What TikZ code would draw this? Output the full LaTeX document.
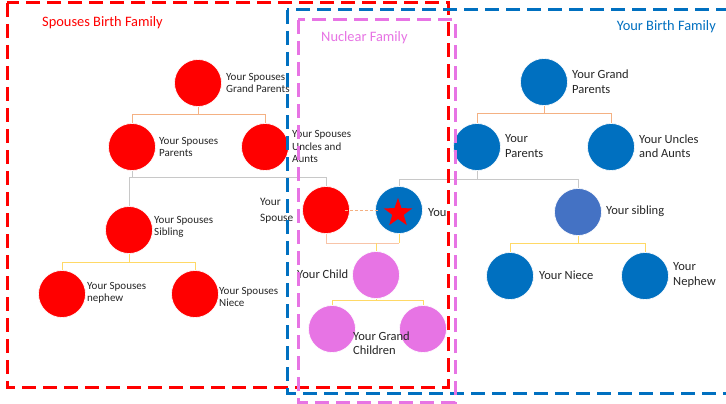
\documentclass[tikz,border=0pt]{standalone}
\usepackage{fontspec}
\setmainfont{Carlito}
\usetikzlibrary{shapes.geometric,calc}
\definecolor{sred}{HTML}{FF0000}
\definecolor{yblue}{HTML}{0070C0}
\definecolor{sibblue}{HTML}{4472C4}
\definecolor{npink}{HTML}{E774E4}
\definecolor{lorange}{HTML}{F4B183}
\definecolor{lgray}{HTML}{C8C8C8}
\definecolor{lyellow}{HTML}{FFD966}
\definecolor{lsalmon}{HTML}{F8C4A8}
\definecolor{txt}{HTML}{262626}
\tikzset{
  person/.style={circle, minimum size=47pt, inner sep=0pt, draw=white, line width=0.6pt},
  spousep/.style={person, fill=sred},
  yourp/.style={person, fill=yblue},
  nucp/.style={person, fill=npink},
  lblsmall/.style={anchor=west, inner sep=0pt, align=left, text=txt, font=\fontsize{11}{12.5}\selectfont},
  lblbig/.style={anchor=west, inner sep=0pt, align=left, text=txt, font=\fontsize{12.5}{14.5}\selectfont},
  title/.style={inner sep=0pt, font=\fontsize{14.4}{16}\selectfont},
  famline/.style={line width=0.9pt},
  oline/.style={famline, draw=lorange},
  gline/.style={famline, draw=lgray},
  yline/.style={famline, draw=lyellow},
  frame/.style={line width=3pt, dash pattern=on 14pt off 7pt},
}
\begin{document}
\begin{tikzpicture}[x=1pt, y=-1pt]
\useasboundingbox (0,0) rectangle (726,404);
\fill[white] (0,0) rectangle (726,404);

% spouse's family
\node[spousep] (sgp) at (198,83) {};
\node[spousep] (spar) at (132,147) {};
\node[spousep] (sunc) at (265,147) {};
\node[spousep] (ssib) at (129,230) {};
\node[spousep] (sneph) at (62,294) {};
\node[spousep] (sniece) at (195,294) {};
% nuclear family
\node[spousep] (spouse) at (326,210) {};
\node[yourp] (you) at (399,210) {};
\node[nucp] (child) at (376,275) {};
\node[nucp] (gc1) at (332,329) {};
\node[nucp] (gc2) at (423,329) {};
% your family
\node[yourp] (gp) at (544,82) {};
\node[yourp] (par) at (477,147) {};
\node[yourp] (unc) at (611,147) {};
\node[person, fill=sibblue] (sib) at (578,212) {};
\node[yourp] (niece) at (510,276) {};
\node[yourp] (neph) at (645,276) {};

\node[star, star points=5, star point ratio=2.5, fill=sred, minimum size=30pt, inner sep=0pt] (star) at (398,213) {};

% connectors
\coordinate (sgpj) at ($(sgp.south)+(0,8)$);
\draw[oline] (sgp.south) -- (sgpj);
\draw[oline] (spar.north) |- (sgpj) -| (sunc.north);

\coordinate (gpj) at ($(gp.south)+(0,8)$);
\draw[oline] (gp.south) -- (gpj);
\draw[oline] (par.north) |- (gpj) -| (unc.north);

\coordinate (sparj) at ($(spar.south)+(0,7)$);
\draw[gline] (spar.south) -- (sparj) -| (spouse.north);
\draw[gline] (ssib.north) |- (sparj);

\coordinate (parj) at ($(par.south)+(0,9)$);
\draw[gline] (par.south) -- (parj);
\draw[gline] (you.north) |- (parj) -| (sib.north);

\draw[lorange, line width=0.6pt, densely dashed, shorten <=-5pt, shorten >=-3pt] (spouse.east) -- (you.west);

\coordinate (cpj) at ($(spouse.south)+(0,9.5)$);
\draw[famline, draw=lsalmon] (spouse.south) -- (cpj) -- (cpj -| you.south);
\draw[yline] (you.south) -- (cpj -| you.south);
\draw[yline] (child.north) -- (child.north |- cpj);

\coordinate (chj) at ($(child.south)+(0,1.5)$);
\draw[yline] (child.south) -- (chj);
\draw[yline] (gc1.north) |- (chj) -| (gc2.north);

\coordinate (ssibj) at ($(ssib.south)+(0,8.5)$);
\draw[yline] (ssib.south) -- (ssibj);
\draw[yline] (sneph.north) |- (ssibj) -| (sniece.north);

\coordinate (sibj) at ($(sib.south)+(0,7.5)$);
\draw[yline] (sib.south) -- (sibj);
\draw[yline] (niece.north) |- (sibj) -| (neph.north);

% labels
\node[lblsmall] (lsgp) at (226,83) {Your Spouses\\Grand Parents};
\node[lblsmall] (lspar) at (159,147) {Your Spouses\\Parents};
\node[lblsmall] (lsunc) at (292,146.5) {Your Spouses\\Uncles and\\Aunts};
\node[lblsmall] (lssib) at (154,227) {Your Spouses\\Sibling};
\node[lblsmall] (lsneph) at (87,293) {Your Spouses\\nephew};
\node[lblsmall] (lsniece) at (219,297) {Your Spouses\\Niece};
\node[anchor=west, inner sep=0pt, align=left, text=txt, font=\fontsize{11.3}{16}\selectfont] (lspouse) at (260,211) {Your\\Spouse};
\node[lblbig] (lyou) at (428,213) {You};
\node[lblbig] (lchild) at (297,274) {Your Child};
\node[lblbig] (lgc) at (353,343) {Your Grand\\Children};
\node[lblbig] (lgp) at (572,81.5) {Your Grand\\Parents};
\node[lblbig] (lpar) at (505,146) {Your\\Parents};
\node[lblbig] (lunc) at (639,146) {Your Uncles\\and Aunts};
\node[lblbig] (lsib) at (606,211) {Your sibling};
\node[lblbig] (lniece) at (539,275) {Your Niece};
\node[lblbig] (lneph) at (673,275) {Your\\Nephew};

% group frames
\draw[frame, draw=sred] (7,3) rectangle (448,387);
\draw[frame, draw=yblue] (287,10) rectangle (745,393);
\draw[frame, draw=npink] (298,20) rectangle (455,402);

\node[title, text=sred, anchor=west] (tspouse) at (42,22.5) {Spouses Birth Family};
\node[title, text=npink, anchor=west] (tnuc) at (321,38) {Nuclear Family};
\node[title, text=yblue, anchor=east] (tyour) at (716,27) {Your Birth Family};
\end{tikzpicture}
\end{document}
